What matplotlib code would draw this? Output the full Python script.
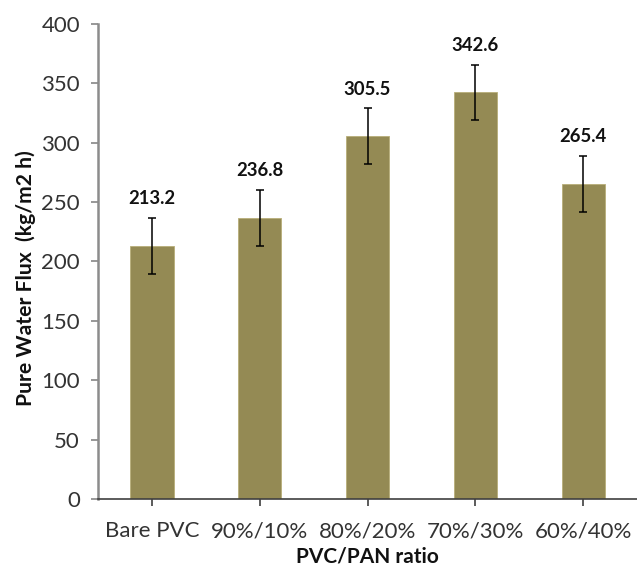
import numpy as np
import matplotlib.pyplot as plt

plt.rcParams['font.family'] = ['Lato', 'DejaVu Sans']

ratios = ['Bare PVC', '90%/10%', '80%/20%', '70%/30%', '60%/40%']
flux = [213.2, 236.8, 305.5, 342.6, 265.4]
flux_err = [23.5, 23.5, 23.5, 23.2, 23.5]

fig = plt.figure(figsize=(6.37, 5.69), dpi=100)
ax = fig.add_axes([0.154, 0.123, 0.846, 0.835])

x = np.arange(len(ratios))
bars = ax.bar(x, flux, 0.40, color='#948A54', edgecolor='#b8ae78', linewidth=0.6,
              yerr=flux_err, capsize=3,
              error_kw=dict(ecolor='black', elinewidth=1.1, capthick=1.1))

# value labels above the error bars
for xi, v, e in zip(x, flux, flux_err):
    ax.annotate('%.1f' % v, (xi, v + e), xytext=(0, 7.5), textcoords='offset points',
                ha='center', va='bottom', fontsize=13.3, fontweight='bold',
                color='#111111')

ax.set_xlim(-0.5, 4.5)
ax.set_ylim(0, 400)
ax.set_yticks(np.arange(0, 401, 50))
ax.set_xticks(x)
ax.set_xticklabels(ratios)
ax.tick_params(axis='both', labelsize=16, labelcolor='#333333',
               length=5, width=1.2, direction='out')
ax.tick_params(axis='y', colors='#868686', labelcolor='#333333', pad=8)
ax.tick_params(axis='x', colors='#404040', labelcolor='#333333', pad=11)
for s in ['top', 'right']:
    ax.spines[s].set_visible(False)
ax.spines['left'].set_color('#8c8c8c')
ax.spines['left'].set_linewidth(1.8)
ax.spines['bottom'].set_color('#404040')
ax.spines['bottom'].set_linewidth(1.2)

ax.set_xlabel('PVC/PAN ratio', fontsize=15, fontweight='bold', labelpad=4,
              color='#111111')
ax.set_ylabel('Pure Water Flux  (kg/m2 h)', fontsize=15.2, fontweight='bold',
              color='#111111')
ax.yaxis.set_label_coords(-0.116, 0.465)

fig.savefig('out.png', dpi=100)
